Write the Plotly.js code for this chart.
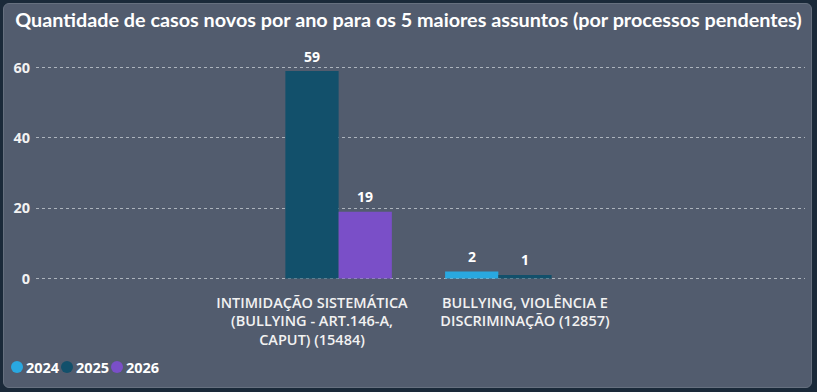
<!DOCTYPE html>
<html>
<head>
<meta charset="utf-8">
<script src="https://cdn.plot.ly/plotly-3.0.1.min.js"></script>
<style>
  html, body { margin: 0; padding: 0; background: #1a2939; width: 817px; height: 392px; overflow: hidden; }
  #card { position: absolute; left: 3px; top: 3px; width: 807px; height: 383px; background: #525c6e; border: 1px solid #66707f; border-radius: 6px; }
  #chart { position: absolute; left: 0; top: 0; width: 817px; height: 392px; }
</style>
</head>
<body>
<div id="card"></div>
<div id="chart"></div>
<script>
const categories = [
  "INTIMIDAÇÃO SISTEMÁTICA<br>(BULLYING - ART.146-A,<br>CAPUT) (15484)",
  "BULLYING, VIOLÊNCIA E<br>DISCRIMINAÇÃO (12857)"
];
const seriesNames = ["2024", "2025", "2026"];
const values2024 = [null, 2];
const values2025 = [59, 1];
const values2026 = [19, null];
const seriesValues = [values2024, values2025, values2026];
const seriesColors = ["#29a8e0", "#12506b", "#7a4fc8"];
const yTicks = [0, 20, 40, 60];

const FONT = "'Segoe UI', 'Open Sans', sans-serif";
const W = 817, H = 392;
const M = { l: 36, r: 12, t: 50, b: 110 };
const plotW = W - M.l - M.r, plotH = H - M.t - M.b;
const xRange = [-1.296, 2.315];
const yRange = [-1, 65];
const bargap = 0.25;
const nSeries = seriesNames.length;
const pxPerCat = plotW / (xRange[1] - xRange[0]);
const barPx = pxPerCat * (1 - bargap) / nSeries;

const traces = seriesNames.map((name, i) => ({
  type: "bar",
  name: name,
  x: categories,
  y: seriesValues[i],
  marker: { color: seriesColors[i] },
  showlegend: false,
  hoverinfo: "skip"
}));

const annotations = [];
// value labels above bars
seriesNames.forEach((name, i) => {
  seriesValues[i].forEach((v, j) => {
    if (v === null) return;
    annotations.push({
      x: categories[j], y: v, xref: "x", yref: "y",
      text: String(v), showarrow: false,
      xshift: (i - (nSeries - 1) / 2) * barPx,
      yanchor: "middle", yshift: 15,
      font: { family: FONT, size: 14, color: "#ffffff", weight: 700 }
    });
  });
});

// legend (circle + label) built from series names / colours
const shapes = [];
const legendY = (M.t + plotH - 367) / plotH; // paper y
seriesNames.forEach((name, i) => {
  const cx = (17 + i * 50 - M.l) / plotW;
  shapes.push({
    type: "circle", xref: "paper", yref: "paper",
    xsizemode: "pixel", ysizemode: "pixel",
    xanchor: cx, yanchor: legendY,
    x0: -6, x1: 6, y0: -6, y1: 6,
    fillcolor: seriesColors[i], line: { width: 0 }
  });
  annotations.push({
    xref: "paper", yref: "paper",
    x: (24 + i * 50 - M.l) / plotW, y: legendY,
    xanchor: "left", yanchor: "middle",
    text: name, showarrow: false,
    font: { family: FONT, size: 14.5, color: "#ffffff", weight: 700 }
  });
});

const layout = {
  width: W,
  height: H,
  paper_bgcolor: "rgba(0,0,0,0)",
  plot_bgcolor: "rgba(0,0,0,0)",
  margin: M,
  font: { family: FONT, color: "#ffffff" },
  title: {
    text: "Quantidade de casos novos por ano para os 5 maiores assuntos (por processos pendentes)",
    font: { family: "Lato, 'Open Sans', sans-serif", size: 19.8, color: "#ffffff", weight: 700 },
    xref: "container", x: 0.5, xanchor: "center",
    yref: "container", y: 1 - 20 / H, yanchor: "middle"
  },
  barmode: "group",
  bargap: bargap,
  bargroupgap: 0,
  xaxis: {
    type: "category",
    range: xRange,
    showgrid: false,
    zeroline: false,
    showline: false,
    ticks: "",
    ticklabelstandoff: 10,
    tickfont: { family: FONT, size: 14.5, color: "#f2f2f2", weight: 600 },
    fixedrange: true
  },
  yaxis: {
    range: yRange,
    tickvals: yTicks,
    ticktext: yTicks.map(String),
    showgrid: true,
    gridcolor: "rgba(235,238,242,0.6)",
    griddash: "dot",
    gridwidth: 1,
    zeroline: false,
    showline: false,
    ticks: "",
    ticklabelstandoff: 5,
    tickfont: { family: FONT, size: 14.5, color: "#f2f2f2", weight: 700 },
    fixedrange: true
  },
  annotations: annotations,
  shapes: shapes,
  showlegend: false
};

Plotly.newPlot("chart", traces, layout, { displayModeBar: false, staticPlot: true });
</script>
</body>
</html>
